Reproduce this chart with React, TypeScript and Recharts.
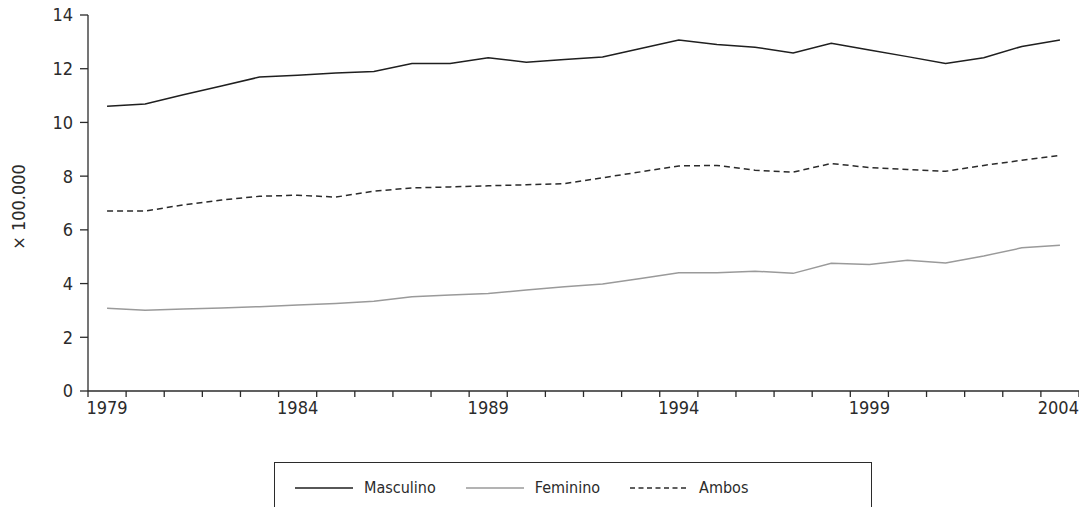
import { CartesianGrid, Line, LineChart, XAxis, YAxis } from "recharts";

const years = [
  1979, 1980, 1981, 1982, 1983, 1984, 1985, 1986, 1987, 1988, 1989, 1990, 1991,
  1992, 1993, 1994, 1995, 1996, 1997, 1998, 1999, 2000, 2001, 2002, 2003, 2004,
];
const masculino = [
  10.6, 10.69, 11.03, 11.36, 11.69, 11.76, 11.84, 11.9, 12.19, 12.19, 12.41, 12.24, 12.34,
  12.44, 12.75, 13.07, 12.9, 12.8, 12.59, 12.95, 12.7, 12.45, 12.19, 12.41, 12.83, 13.07,
];
const feminino = [
  3.08, 3.01, 3.05, 3.09, 3.14, 3.2, 3.26, 3.34, 3.51, 3.57, 3.63, 3.76, 3.88,
  3.98, 4.19, 4.4, 4.4, 4.46, 4.38, 4.76, 4.71, 4.87, 4.77, 5.03, 5.33, 5.43,
];
const ambos = [
  6.7, 6.7, 6.93, 7.11, 7.25, 7.29, 7.22, 7.44, 7.56, 7.6, 7.64, 7.68, 7.72,
  7.94, 8.16, 8.38, 8.4, 8.22, 8.15, 8.47, 8.32, 8.25, 8.18, 8.4, 8.59, 8.77,
];
const yearLabels = [1979, 1984, 1989, 1994, 1999, 2004];
const yTicks = [0, 2, 4, 6, 8, 10, 12, 14];

const data = years.map((year, i) => ({
  year,
  masculino: masculino[i],
  feminino: feminino[i],
  ambos: ambos[i],
}));

// tick marks sit between the years, labels sit on them
const boundaries = [...years.map((y) => y - 0.5), years[years.length - 1] + 0.5];

const ink = "#2b2b2b";
const font = "'DejaVu Sans Condensed', 'DejaVu Sans', sans-serif";
const tickStyle = { fontSize: 18, fill: ink, fontFamily: font };

const series = [
  { key: "masculino", name: "Masculino", color: "#1f1f1f", dash: undefined },
  { key: "feminino", name: "Feminino", color: "#9a9a9a", dash: undefined },
  { key: "ambos", name: "Ambos", color: "#2b2b2b", dash: "6 4" },
];

// the last year label would run off the right edge, so it is end-anchored there
function YearTick({ x, y, payload, index }: any) {
  const last = index === yearLabels.length - 1;
  return (
    <text
      x={last ? x + 19 : x}
      y={y}
      dy="0.71em"
      textAnchor={last ? "end" : "middle"}
      fontSize={18}
      fill={ink}
      fontFamily={font}
    >
      {payload.value}
    </text>
  );
}

function YLabel({ viewBox }: any) {
  const cx = viewBox.x + 18;
  const cy = viewBox.y + viewBox.height / 2 + 4;
  return (
    <text
      x={cx}
      y={cy}
      transform={`rotate(-90 ${cx} ${cy})`}
      textAnchor="middle"
      dominantBaseline="central"
      fontSize={18}
      fill={ink}
      fontFamily={font}
    >
      × 100.000
    </text>
  );
}

function LegendBox() {
  return (
    <div
      style={{
        position: "absolute",
        left: 274,
        top: 462,
        width: 598,
        height: 60,
        border: `1.3px solid ${ink}`,
        boxSizing: "border-box",
        display: "flex",
        alignItems: "flex-start",
        paddingTop: 15,
        paddingLeft: 20,
        fontFamily: font,
        fontSize: 16,
        color: ink,
      }}
    >
      {series.map((s) => (
        <span key={s.key} style={{ display: "inline-flex", alignItems: "center", marginRight: 30 }}>
          <svg width={58} height={4} style={{ marginRight: 11 }}>
            <line
              x1={0}
              x2={58}
              y1={2}
              y2={2}
              stroke={s.color}
              strokeWidth={1.6}
              strokeDasharray={s.dash ? "5 3.5" : undefined}
            />
          </svg>
          {s.name}
        </span>
      ))}
    </div>
  );
}

export default function App() {
  return (
    <div style={{ position: "absolute", left: 0, top: 0, width: 1079, height: 507, background: "#fff" }}>
      <LineChart
        width={1079}
        height={507}
        data={data}
        margin={{ top: 15, right: 0, left: 0, bottom: 80 }}
      >
        <CartesianGrid stroke="none" />
        <XAxis
          xAxisId="marks"
          dataKey="year"
          type="number"
          domain={[boundaries[0], boundaries[boundaries.length - 1]]}
          ticks={boundaries}
          tickFormatter={() => ""}
          tickSize={6}
          height={6}
          stroke={ink}
          strokeWidth={1.3}
          interval={0}
        />
        <XAxis
          xAxisId="years"
          dataKey="year"
          type="number"
          domain={[boundaries[0], boundaries[boundaries.length - 1]]}
          ticks={yearLabels}
          axisLine={false}
          tickLine={false}
          tickSize={0}
          tickMargin={4}
          height={30}
          tick={<YearTick />}
          interval={0}
        />
        <YAxis
          domain={[0, 14]}
          ticks={yTicks}
          width={88}
          tickSize={8}
          tickMargin={7}
          stroke={ink}
          strokeWidth={1.3}
          tick={tickStyle}
          interval={0}
          label={<YLabel />}
        />
        {series.map((s) => (
          <Line
            key={s.key}
            xAxisId="years"
            dataKey={s.key}
            name={s.name}
            type="linear"
            stroke={s.color}
            strokeWidth={1.5}
            strokeDasharray={s.dash}
            dot={false}
            activeDot={false}
            isAnimationActive={false}
          />
        ))}
      </LineChart>
      <LegendBox />
    </div>
  );
}
